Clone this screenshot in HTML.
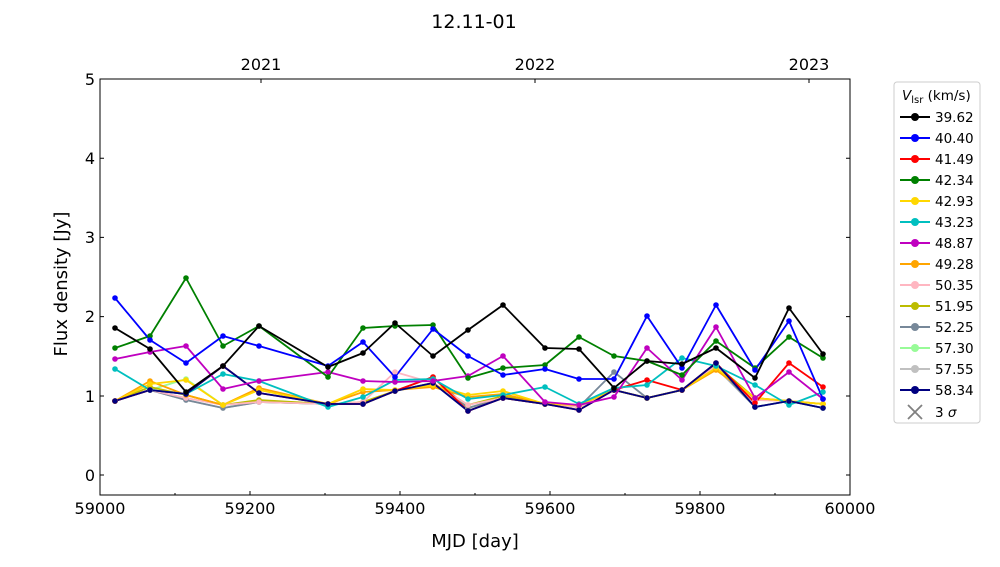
<!DOCTYPE html>
<html><head><meta charset="utf-8"><style>
body{margin:0;background:#fff;width:1000px;height:562px;overflow:hidden}
text{font-family:"DejaVu Sans","Liberation Sans",sans-serif;fill:#000}
</style></head><body>
<svg width="1000" height="562" viewBox="0 0 1000 562" xmlns="http://www.w3.org/2000/svg">
<text x="474" y="28" font-size="19" text-anchor="middle">12.11-01</text>
<g stroke="#000" stroke-width="1">
<rect x="100" y="79" width="750" height="416" fill="none"/>
<path d="M100 495v-4M250 495v-4M400 495v-4M550 495v-4M700 495v-4M850 495v-4M175 495v-2M325 495v-2M475 495v-2M625 495v-2M775 495v-2"/>
<path d="M100 475h4M100 396h4M100 316.6h4M100 237.4h4M100 158.2h4M100 79h4M850 475h-4M850 396h-4M850 316.6h-4M850 237.4h-4M850 158.2h-4"/>
<path d="M261 79v4M535 79v4M809 79v4"/>
</g>
<g font-size="16" text-anchor="middle">
<text x="100" y="514">59000</text><text x="250" y="514">59200</text><text x="400" y="514">59400</text><text x="550" y="514">59600</text><text x="700" y="514">59800</text><text x="850" y="514">60000</text>
<text x="261" y="70">2021</text><text x="535" y="70">2022</text><text x="809" y="70">2023</text>
</g>
<g font-size="16" text-anchor="end">
<text x="95" y="481">0</text><text x="95" y="402">1</text><text x="95" y="322">2</text><text x="95" y="243">3</text><text x="95" y="164">4</text><text x="95" y="85">5</text>
</g>
<text x="475" y="547" font-size="18" text-anchor="middle">MJD [day]</text>
<text transform="translate(67 284) rotate(-90)" font-size="18" text-anchor="middle">Flux density [Jy]</text>
<g fill="none" stroke-width="1.8" stroke-linejoin="round">
<polyline stroke="#c0c0c0" points="115,401 150,390 186,400 223,408 259,402 328,404 363,404 395,391 433,383 468,408 503,398 545,404 579,407 614,390 647,398 682,390 716,368 755,407 789,401 823,408"/>
<polyline stroke="#98fb98" points="115,401 150,390 186,379 223,405 259,402 328,404 363,404 395,391 433,383 468,408 503,398 545,404 579,407 614,390 647,398 682,390 716,365 755,407 789,401 823,408"/>
<polyline stroke="#778899" points="115,401 150,390 186,400 223,408 259,402 328,404 363,404 395,391 433,377 468,408 503,398 545,404 579,407 614,372 647,398 682,390 716,366 755,407 789,401 823,408"/>
<polyline stroke="#bcbc00" points="115,401 150,387 186,395 223,405 259,400 328,404 363,402 395,391 433,383 468,405 503,396 545,404 579,407 614,390 647,398 682,390 716,365 755,398 789,401 823,404"/>
<polyline stroke="#ffb6c1" points="115,401 150,390 186,398 223,405 259,402 328,404 363,402 395,372 433,383 468,405 503,398 545,404 579,407 614,390 647,398 682,390 716,366 755,400 789,401 823,404"/>
<polyline stroke="#ffa500" points="115,401 150,381 186,395 223,405 259,388 328,404 363,392 395,390 433,387 468,397 503,394 545,404 579,405 614,390 647,398 682,390 716,370 755,398 789,401 823,404"/>
<polyline stroke="#ffd700" points="115,401 150,384 186,380 223,405 259,390 328,404 363,389 395,390 433,385 468,395 503,391 545,404 579,405 614,390 647,398 682,390 716,368 755,398 789,401 823,404"/>
<polyline stroke="#ff0000" points="115,401 150,390 186,394 223,366 259,393 328,404 363,404 395,391 433,377 468,411 503,398 545,404 579,410 614,390 647,380 682,390 716,363 755,403 789,363 823,387"/>
<polyline stroke="#00bfbf" points="115,369 150,390 186,394 223,374 259,381 328,407 363,397 395,380 433,379 468,399 503,395 545,387 579,404 614,388 647,385 682,358 716,366 755,385 789,405 823,392"/>
<polyline stroke="#000080" points="115,401 150,390 186,394 223,366 259,393 328,404 363,404 395,391 433,383 468,411 503,398 545,404 579,410 614,390 647,398 682,390 716,363 755,407 789,401 823,408"/>
<polyline stroke="#bf00bf" points="115,359 150,352 186,346 223,389 259,381 328,372 363,381 395,382 433,381 468,376 503,356 545,402 579,405 614,397 647,348 682,380 716,327 755,398 789,372 823,399"/>
<polyline stroke="#008000" points="115,348 150,336 186,278 223,346 259,326 328,377 363,328 395,326 433,325 468,378 503,368 545,365 579,337 614,356 647,361 682,375 716,341 755,368 789,337 823,358"/>
<polyline stroke="#0000ff" points="115,298 150,340 186,363 223,336 259,346 328,366 363,342 395,377 433,329 468,356 503,375 545,369 579,379 614,379 647,316 682,368 716,305 755,370 789,321 823,399"/>
<polyline stroke="#000000" points="115,328 150,349 186,392 223,366 259,326 328,367 363,353 395,323 433,356 468,330 503,305 545,348 579,349 614,388 647,361 682,364 716,348 755,378 789,308 823,354"/>
</g>
<g stroke="#ccc" fill="#fff"><rect x="894" y="82" width="86" height="341" rx="3"/></g>
<text x="902" y="100" font-size="13.5"><tspan font-style="italic">V</tspan><tspan font-size="10" dy="3">lsr</tspan><tspan dy="-3"> (km/s)</tspan></text>
<g stroke-width="2" font-size="13.5">
<g transform="translate(0,117)"><path d="M900 0h30" stroke="#000"/><circle cx="915" cy="0" r="4" fill="#000"/><text x="935" y="5">39.62</text></g>
<g transform="translate(0,138)"><path d="M900 0h30" stroke="#0000ff"/><circle cx="915" cy="0" r="4" fill="#0000ff"/><text x="935" y="5">40.40</text></g>
<g transform="translate(0,159)"><path d="M900 0h30" stroke="#ff0000"/><circle cx="915" cy="0" r="4" fill="#ff0000"/><text x="935" y="5">41.49</text></g>
<g transform="translate(0,180)"><path d="M900 0h30" stroke="#008000"/><circle cx="915" cy="0" r="4" fill="#008000"/><text x="935" y="5">42.34</text></g>
<g transform="translate(0,201)"><path d="M900 0h30" stroke="#ffd700"/><circle cx="915" cy="0" r="4" fill="#ffd700"/><text x="935" y="5">42.93</text></g>
<g transform="translate(0,222)"><path d="M900 0h30" stroke="#00bfbf"/><circle cx="915" cy="0" r="4" fill="#00bfbf"/><text x="935" y="5">43.23</text></g>
<g transform="translate(0,243)"><path d="M900 0h30" stroke="#bf00bf"/><circle cx="915" cy="0" r="4" fill="#bf00bf"/><text x="935" y="5">48.87</text></g>
<g transform="translate(0,264)"><path d="M900 0h30" stroke="#ffa500"/><circle cx="915" cy="0" r="4" fill="#ffa500"/><text x="935" y="5">49.28</text></g>
<g transform="translate(0,285)"><path d="M900 0h30" stroke="#ffb6c1"/><circle cx="915" cy="0" r="4" fill="#ffb6c1"/><text x="935" y="5">50.35</text></g>
<g transform="translate(0,306)"><path d="M900 0h30" stroke="#bcbc00"/><circle cx="915" cy="0" r="4" fill="#bcbc00"/><text x="935" y="5">51.95</text></g>
<g transform="translate(0,327)"><path d="M900 0h30" stroke="#778899"/><circle cx="915" cy="0" r="4" fill="#778899"/><text x="935" y="5">52.25</text></g>
<g transform="translate(0,348)"><path d="M900 0h30" stroke="#98fb98"/><circle cx="915" cy="0" r="4" fill="#98fb98"/><text x="935" y="5">57.30</text></g>
<g transform="translate(0,369)"><path d="M900 0h30" stroke="#c0c0c0"/><circle cx="915" cy="0" r="4" fill="#c0c0c0"/><text x="935" y="5">57.55</text></g>
<g transform="translate(0,390)"><path d="M900 0h30" stroke="#000080"/><circle cx="915" cy="0" r="4" fill="#000080"/><text x="935" y="5">58.34</text></g>
<g transform="translate(0,412)"><path d="M908 -7l14 14M922 -7l-14 14" stroke="#808080" stroke-width="1.8"/><text x="935" y="5">3 <tspan font-style="italic">σ</tspan></text></g>
</g>
</svg>
<script>
document.querySelectorAll('polyline').forEach(function(p){
  var c=p.getAttribute('stroke');
  p.getAttribute('points').trim().split(/\s+/).forEach(function(pt){
    var a=pt.split(',');
    var e=document.createElementNS('http://www.w3.org/2000/svg','circle');
    e.setAttribute('cx',a[0]);e.setAttribute('cy',a[1]);e.setAttribute('r','2.8');e.setAttribute('fill',c);
    p.parentNode.appendChild(e);
  });
});
</script>
</body></html>
